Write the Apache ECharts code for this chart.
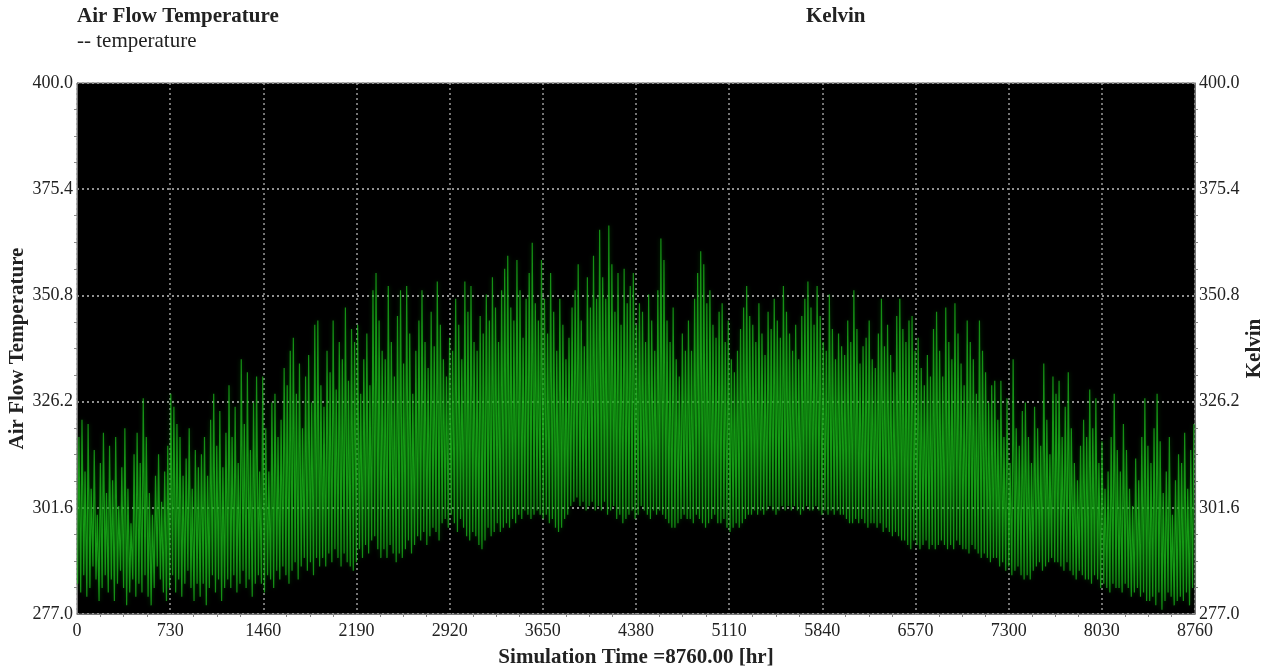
<!DOCTYPE html>
<html>
<head>
<meta charset="utf-8">
<title>Air Flow Temperature</title>
<script src="https://cdn.jsdelivr.net/npm/echarts@6.0.0/dist/echarts.min.js"></script>
<style>
    html, body { margin: 0; padding: 0; background: #fff; }
    #air_flow { width: 1271px; height: 669px; }
</style>
</head>
<body>
<div id="air_flow"></div>
<script>
// ------------------------------
// Chart data
// ------------------------------

// Tick labels
var xTicks = [0, 730, 1460, 2190, 2920, 3650, 4380, 5110, 5840, 6570, 7300, 8030, 8760];
var yTicks = [277.0, 301.6, 326.2, 350.8, 375.4, 400.0];

// Daily maximum temperature [K], one per simulated day
var dailyHigh = [
    318, 322, 310, 321, 306, 315, 300, 312, 319, 305,
    316, 308, 318, 302, 311, 320, 306, 298, 314, 319,
    312, 327, 318, 305, 300, 309, 314, 303, 310, 316,
    328, 325, 321, 318, 309, 313, 320, 306, 315, 311,
    314, 318, 309, 322, 328, 316, 324, 311, 319, 330,
    318, 325, 312, 336, 321, 333, 315, 326, 332, 310,
    332, 320, 310, 326, 328, 318, 322, 334, 330, 338,
    341, 328, 335, 320, 332, 337, 326, 344, 345, 330,
    325, 338, 333, 345, 329, 340, 336, 348, 331, 343,
    340, 344, 328, 336, 342, 330, 352, 356, 345, 338,
    336, 353, 340, 332, 346, 352, 335, 353, 342, 328,
    338, 345, 352, 340, 334, 347, 339, 354, 344, 336,
    332, 341, 338, 350, 344, 336, 354, 347, 353, 340,
    338, 346, 342, 351, 345, 355, 348, 340, 352, 357,
    360, 348, 345, 359, 352, 341, 350, 356, 363, 349,
    345, 359, 350, 342, 356, 347, 338, 350, 344, 336,
    341, 348, 352, 358, 345, 339, 355, 348, 360, 350,
    366, 355, 350, 367, 358, 347, 356, 344, 357, 349,
    353, 356, 344, 349, 347, 340, 351, 345, 338, 352,
    364, 359, 345, 340, 348, 336, 332, 342, 338, 345,
    338, 350, 356, 361, 358, 349, 352, 344, 341, 347,
    349, 340, 345, 336, 333, 338, 343, 348, 353, 346,
    344, 340, 349, 342, 337, 347, 343, 350, 345, 341,
    353, 347, 342, 338, 344, 336, 346, 350, 354, 348,
    344, 353, 346, 340, 338, 351, 343, 336, 342, 339,
    337, 345, 340, 352, 343, 335, 339, 341, 345, 336,
    334, 342, 350, 339, 344, 337, 333, 346, 350, 343,
    340, 345, 346, 338, 341, 334, 330, 337, 332, 343,
    347, 338, 332, 348, 340, 336, 349, 342, 335, 330,
    345, 340, 336, 328, 345, 338, 333, 326, 330, 331,
    322, 331, 318, 327, 312, 336, 320, 316, 324, 326,
    318, 312, 325, 320, 316, 335, 322, 314, 332, 328,
    331, 318, 325, 333, 320, 312, 308, 316, 322, 318,
    329, 320, 327, 312, 317, 306, 310, 318, 328, 315,
    310, 321, 315, 306, 302, 313, 308, 318, 327, 316,
    312, 320, 328, 317, 305, 310, 318, 300, 308, 314,
    312, 319, 306, 315, 321
];

// Daily minimum temperature [K]
var dailyLow = [
    284, 282, 286, 281, 283, 288, 285, 280, 283, 286,
    282, 285, 280, 284, 287, 283, 279, 282, 285, 281,
    284, 282, 286, 281, 279, 283, 288, 285, 282, 280,
    283, 286, 282, 285, 281, 284, 287, 283, 280, 284,
    281, 284, 279, 283, 286, 282, 285, 280, 283, 285,
    283, 286, 282, 284, 287, 283, 285, 281, 284, 286,
    284, 282, 286, 285, 283, 287, 285, 288, 286, 284,
    287, 289, 285, 288, 290, 287, 289, 286, 290, 288,
    290, 288, 291, 289, 292, 290, 288, 291, 289, 288,
    287, 289, 292, 290, 293, 291, 294, 295, 292, 290,
    292, 290, 293, 291, 289, 291, 290, 292, 294, 291,
    293, 295, 294, 296, 293, 295, 297, 296, 294, 298,
    299, 297, 300, 298, 296, 299, 297, 295, 294, 296,
    295, 293, 292, 294, 297, 295, 296, 298, 296, 297,
    298, 297, 299, 298, 300, 299, 301, 300, 299, 300,
    301, 300, 299, 300, 298, 299, 297, 296, 297, 299,
    300, 302, 303, 304, 302, 303, 301, 302, 303, 301,
    302, 301, 303, 300, 301, 302, 299, 300, 298, 299,
    300, 301, 299, 300, 302, 301, 300, 299, 301, 300,
    301, 300, 299, 298, 297, 297, 298, 299, 300, 299,
    299, 298, 300, 299, 298, 297, 298, 299, 300, 298,
    298, 299, 297, 296, 297, 298, 297, 298, 299, 300,
    300, 301, 300, 301, 300, 301, 302, 301, 300, 301,
    302, 301, 302, 301, 302, 301, 300, 301, 302, 301,
    301, 302, 301, 300, 301, 300, 301, 300, 301, 300,
    300, 299, 298, 298, 299, 298, 299, 298, 297, 298,
    298, 297, 298, 296, 297, 296, 295, 296, 295, 294,
    294, 293, 292, 294, 293, 292, 293, 294, 292, 293,
    292, 293, 294, 293, 292, 293, 292, 294, 293, 292,
    292, 291, 293, 292, 291, 290, 291, 290, 289, 290,
    290, 288, 289, 287, 288, 286, 287, 288, 286, 285,
    286, 285, 287, 288, 289, 287, 288, 289, 290, 289,
    289, 288, 287, 289, 287, 286, 285, 287, 286, 285,
    285, 284, 286, 285, 283, 284, 283, 282, 284, 283,
    283, 282, 284, 283, 281, 282, 283, 281, 282, 280,
    280, 281, 279, 282, 278, 280, 282, 281, 279, 280,
    281, 280, 282, 279, 283
];


// Setup module
// ------------------------------

var AirFlowChart = function() {

    var _airFlowChart = function() {
        if (typeof echarts == 'undefined') {
            console.warn('Warning - echarts.min.js is not loaded.');
            return;
        }

        var chart_element = document.getElementById('air_flow');
        if (!chart_element) {
            return;
        }

        // Build hourly points: night low, afternoon high
        var temperature = [];
        for (var d = 0; d < dailyLow.length; d++) {
            temperature.push([d * 24 + 5, dailyLow[d]]);
            temperature.push([d * 24 + 15, dailyHigh[d]]);
        }

        var serif = '"Liberation Serif", "Times New Roman", serif';
        var gridDots = {
            show: true,
            lineStyle: {
                color: '#9a9a9a',
                type: [2, 3],
                width: 1.5
            }
        };

        // Shared vertical axis setup
        var yAxisBase = function(position, name, gap) {
            return {
                type: 'value',
                position: position,
                min: yTicks[0],
                max: yTicks[yTicks.length - 1],
                interval: yTicks[1] - yTicks[0],
                name: name,
                nameLocation: 'middle',
                nameRotate: 90,
                nameGap: gap,
                nameMoveOverlap: false,
                nameTextStyle: {
                    fontFamily: serif,
                    fontSize: 21,
                    fontWeight: 'bold',
                    color: '#222'
                },
                axisLine: {
                    show: true,
                    lineStyle: { color: '#777' }
                },
                axisTick: { show: false },
                minorTick: {
                    show: true,
                    splitNumber: 4,
                    length: 3,
                    lineStyle: { color: '#888' }
                },
                axisLabel: {
                    margin: 4,
                    fontFamily: serif,
                    fontSize: 18,
                    color: '#222',
                    formatter: function(v) { return v.toFixed(1); }
                },
                splitLine: gridDots
            };
        };

        var chart = echarts.init(chart_element, null, { renderer: 'canvas' });

        chart.setOption({
            animation: false,
            backgroundColor: '#fff',

            // Headings
            title: [{
                text: 'Air Flow Temperature',
                subtext: '-- temperature',
                left: 77,
                top: 6,
                padding: 0,
                itemGap: 4,
                textStyle: {
                    fontFamily: serif,
                    fontSize: 21,
                    fontWeight: 'bold',
                    color: '#222'
                },
                subtextStyle: {
                    fontFamily: serif,
                    fontSize: 21,
                    color: '#222'
                }
            }, {
                text: 'Kelvin',
                left: 806,
                top: 6,
                padding: 0,
                textStyle: {
                    fontFamily: serif,
                    fontSize: 21,
                    fontWeight: 'bold',
                    color: '#222'
                }
            }],

            // Plot area
            grid: {
                left: 77,
                right: 76,
                top: 83,
                bottom: 55,
                outerBoundsMode: 'none',
                containLabel: false,
                show: true,
                backgroundColor: '#000',
                borderColor: '#777',
                borderWidth: 1
            },

            xAxis: {
                type: 'value',
                min: xTicks[0],
                max: xTicks[xTicks.length - 1],
                interval: xTicks[1] - xTicks[0],
                name: 'Simulation Time =8760.00 [hr]',
                nameLocation: 'middle',
                nameGap: 33,
                nameMoveOverlap: false,
                nameTextStyle: {
                    fontFamily: serif,
                    fontSize: 21,
                    fontWeight: 'bold',
                    color: '#222'
                },
                axisLine: {
                    show: true,
                    lineStyle: { color: '#777' }
                },
                axisTick: { show: false },
                minorTick: {
                    show: true,
                    splitNumber: 4,
                    length: 3,
                    lineStyle: { color: '#888' }
                },
                axisLabel: {
                    margin: 8,
                    fontFamily: serif,
                    fontSize: 18,
                    color: '#222',
                    formatter: function(v) { return String(v); }
                },
                splitLine: gridDots
            },

            yAxis: [
                yAxisBase('left', 'Air Flow Temperature', 49),
                yAxisBase('right', 'Kelvin', 49)
            ],

            series: [{
                name: 'temperature',
                type: 'line',
                yAxisIndex: 0,
                data: temperature,
                showSymbol: false,
                symbol: 'none',
                silent: true,
                sampling: null,
                lineStyle: {
                    color: 'rgba(30, 200, 30, 0.7)',
                    width: 1.2,
                    shadowColor: 'rgba(0, 110, 0, 0.9)',
                    shadowBlur: 4
                }
            }]
        });

        window.onresize = function() {
            chart.resize();
        };
    };

    return {
        init: function() {
            _airFlowChart();
        }
    };
}();


// Initialize module
// ------------------------------

document.addEventListener('DOMContentLoaded', function() {
    AirFlowChart.init();
});
</script>
</body>
</html>
